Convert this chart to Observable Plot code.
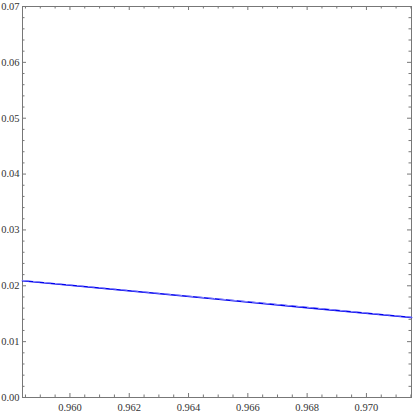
<!DOCTYPE html>
<html>
<head>
<meta charset="utf-8">
<script src="https://cdn.jsdelivr.net/npm/d3@7"></script>
<script src="https://cdn.jsdelivr.net/npm/@observablehq/plot@0.6"></script>
<style>
  html, body { margin: 0; padding: 0; background: #fff; }
</style>
</head>
<body>
<div id="chart"></div>
<script>
// Data
const xDomain = [0.9584, 0.97152];
const yDomain = [0.0, 0.07];
const xMajorTicks = [0.960, 0.962, 0.964, 0.966, 0.968, 0.970];
const yMajorTicks = [0.00, 0.01, 0.02, 0.03, 0.04, 0.05, 0.06, 0.07];
const curveX = [0.9584, 0.96152, 0.96484, 0.96816, 0.97152];
const curveY = [0.0209, 0.01934, 0.01767, 0.01600, 0.01431];

const xMinorTicks = d3.range(0, 40).map(i => 0.9585 + i * 0.0005).filter(v => v >= xDomain[0] && v <= xDomain[1] && !xMajorTicks.some(m => Math.abs(m - v) < 1e-9));
const yMinorTicks = d3.range(0, 36).map(i => i * 0.002).filter(v => v <= yDomain[1] && !yMajorTicks.some(m => Math.abs(m - v) < 1e-9));

const curve = curveX.map((x, i) => ({x, y: curveY[i]}));

const W = 414, H = 412;
const mL = 22, mT = 6, mR = 3, mB = 15;
const plotW = W - mL - mR, plotH = H - mT - mB;
const xSpan = xDomain[1] - xDomain[0], ySpan = yDomain[1] - yDomain[0];
const majY = 4 / plotH * ySpan, minY = 2.5 / plotH * ySpan;
const majX = 4 / plotW * xSpan, minX = 2.5 / plotW * xSpan;

const serif = "Liberation Serif";
const tickColor = "#777";
const chart = Plot.plot({
  width: W,
  height: H,
  marginLeft: mL,
  marginTop: mT,
  marginRight: mR,
  marginBottom: mB,
  style: {background: "#fff", color: "#333", fontFamily: serif, fontSize: "10.5px"},
  x: {domain: xDomain},
  y: {domain: yDomain},
  marks: [
    Plot.ruleX(xMajorTicks, {x: d => d, y1: yDomain[0], y2: yDomain[0] + majY, stroke: tickColor}),
    Plot.ruleX(xMinorTicks, {x: d => d, y1: yDomain[0], y2: yDomain[0] + minY, stroke: tickColor}),
    Plot.ruleX(xMajorTicks, {x: d => d, y1: yDomain[1], y2: yDomain[1] - majY, stroke: tickColor}),
    Plot.ruleX(xMinorTicks, {x: d => d, y1: yDomain[1], y2: yDomain[1] - minY, stroke: tickColor}),
    Plot.ruleY(yMajorTicks, {y: d => d, x1: xDomain[0], x2: xDomain[0] + majX, stroke: tickColor}),
    Plot.ruleY(yMinorTicks, {y: d => d, x1: xDomain[0], x2: xDomain[0] + minX, stroke: tickColor}),
    Plot.ruleY(yMajorTicks, {y: d => d, x1: xDomain[1], x2: xDomain[1] - majX, stroke: tickColor}),
    Plot.ruleY(yMinorTicks, {y: d => d, x1: xDomain[1], x2: xDomain[1] - minX, stroke: tickColor}),
    Plot.axisX({ticks: xMajorTicks, tickSize: 0, tickPadding: 6, tickFormat: d3.format(".3f"), label: null, fill: "#333", fontFamily: serif}),
    Plot.axisY({ticks: yMajorTicks, tickSize: 0, tickPadding: 3, tickFormat: d3.format(".2f"), label: null, fill: "#333", fontFamily: serif}),
    Plot.frame({stroke: tickColor}),
    Plot.line(curve, {x: "x", y: "y", stroke: "#0000ee", strokeWidth: 1.6}),
    Plot.line(curve, {x: "x", y: "y", stroke: "#8a8aff", strokeWidth: 1, strokeDasharray: "6,5", dy: -0.4})
  ]
});
chart.querySelectorAll("text, g").forEach(el => { el.setAttribute("font-family", serif); el.style.fontFamily = serif; });
document.getElementById("chart").appendChild(chart);
</script>
</body>
</html>
